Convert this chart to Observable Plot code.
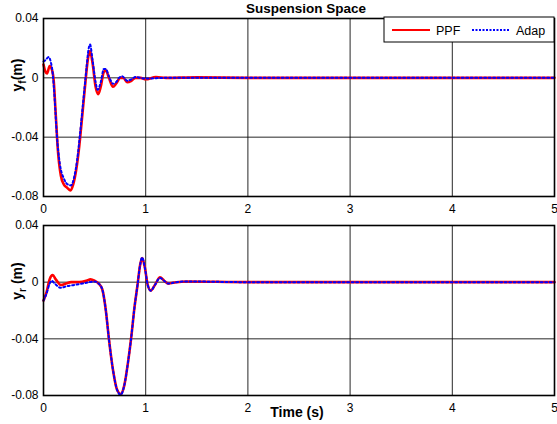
<!DOCTYPE html>
<html>
<head>
<meta charset="utf-8">
<script src="https://cdn.jsdelivr.net/npm/d3@7"></script>
<script src="https://cdn.jsdelivr.net/npm/@observablehq/plot@0.6"></script>
<style>
  body { margin: 0; background: #fff; }
  #wrap { position: relative; width: 557px; height: 424px; font-family: "Liberation Sans", Arial, sans-serif; }
  #wrap svg.plot { position: absolute; left: 0; }
  #overlay { position: absolute; left: 0; top: 0; pointer-events: none; }
</style>
</head>
<body>
<div id="wrap"></div>
<script>
// ---- data ----
const xTicks = [0, 1, 2, 3, 4, 5];
const yTicks = [-0.08, -0.04, 0, 0.04];
const yTickLabels = ["-0.08", "-0.04", "0", "0.04"];

// Front suspension space y_f
const tFppf = [0, 0.02, 0.035, 0.06, 0.08, 0.1, 0.12, 0.14, 0.17, 0.2, 0.23, 0.265, 0.29, 0.32, 0.35, 0.38, 0.41, 0.435, 0.455, 0.48, 0.51, 0.535, 0.56, 0.59, 0.61, 0.64, 0.68, 0.71, 0.75, 0.78, 0.82, 0.86, 0.9, 0.95, 1.0, 1.1, 1.2, 1.5, 2, 3, 4, 5];
const yFppf = [0.009, 0.004, 0.003, 0.008, 0.006, -0.002, -0.025, -0.048, -0.066, -0.072, -0.074, -0.076, -0.072, -0.062, -0.046, -0.025, -0.003, 0.013, 0.018, 0.01, -0.006, -0.011, -0.006, 0.004, 0.005, 0.0, -0.006, -0.004, 0.0, 0.0, -0.003, -0.002, 0.0, 0.0, -0.001, 0.0005, 0.0, 0.0003, 0, 0, 0, 0];
const tFadap = [0, 0.02, 0.05, 0.07, 0.09, 0.11, 0.13, 0.16, 0.2, 0.24, 0.27, 0.3, 0.33, 0.36, 0.39, 0.42, 0.44, 0.455, 0.48, 0.51, 0.53, 0.56, 0.59, 0.61, 0.64, 0.68, 0.71, 0.74, 0.77, 0.82, 0.86, 0.9, 1.0, 1.2, 1.5, 2, 3, 4, 5];
const yFadap = [0.011, 0.012, 0.014, 0.011, 0.003, -0.015, -0.038, -0.058, -0.068, -0.072, -0.0725, -0.067, -0.055, -0.036, -0.015, 0.006, 0.019, 0.0225, 0.012, -0.003, -0.008, -0.003, 0.006, 0.006, 0.001, -0.004, -0.003, 0.0, 0.001, -0.002, -0.001, 0.0005, -0.0005, 0.0, 0.0, 0, 0, 0, 0];

// Rear suspension space y_r
const tRppf = [0, 0.03, 0.06, 0.09, 0.12, 0.17, 0.22, 0.27, 0.35, 0.42, 0.46, 0.5, 0.54, 0.575, 0.61, 0.64, 0.68, 0.72, 0.755, 0.79, 0.83, 0.86, 0.89, 0.92, 0.945, 0.965, 0.99, 1.02, 1.05, 1.09, 1.14, 1.18, 1.22, 1.3, 1.4, 2, 3, 4, 5];
const yRppf = [-0.013, -0.007, 0.002, 0.005, 0.002, -0.002, -0.001, 0.0, 0.0, 0.001, 0.002, 0.001, -0.001, -0.005, -0.02, -0.04, -0.062, -0.076, -0.079, -0.073, -0.055, -0.038, -0.018, -0.002, 0.012, 0.017, 0.011, -0.002, -0.006, -0.002, 0.0035, 0.001, -0.001, 0.0, 0.0005, 0, 0, 0, 0];
const tRadap = [0, 0.03, 0.06, 0.08, 0.11, 0.17, 0.22, 0.3, 0.38, 0.45, 0.5, 0.54, 0.575, 0.61, 0.64, 0.68, 0.72, 0.755, 0.79, 0.83, 0.86, 0.89, 0.92, 0.945, 0.965, 0.99, 1.02, 1.05, 1.09, 1.14, 1.18, 1.22, 1.3, 1.4, 2, 3, 4, 5];
const yRadap = [-0.013, -0.008, -0.001, 0.001, -0.001, -0.004, -0.003, -0.002, -0.001, 0.0, 0.0005, -0.001, -0.005, -0.02, -0.04, -0.062, -0.076, -0.0795, -0.073, -0.055, -0.038, -0.018, -0.002, 0.012, 0.0175, 0.011, -0.002, -0.006, -0.002, 0.003, 0.001, -0.001, 0.0, 0.0005, 0, 0, 0, 0];

const seriesNames = ["PPF", "Adap"];
const seriesColors = ["#ff0000", "#0000ff"];

// ---- build tables ----
const zip = (ts, ys) => ts.map((t, i) => ({t, v: ys[i]}));
const font = '"Liberation Sans", Arial, sans-serif';

function panel({ppf, adap, height, marginTop, marginBottom}) {
  return Plot.plot({
    width: 557,
    height,
    marginLeft: 43,
    marginRight: 3,
    marginTop,
    marginBottom,
    style: {fontFamily: font, fontSize: "12px", color: "#000", background: "transparent"},
    x: {domain: [0, 5], ticks: xTicks},
    y: {domain: [-0.08, 0.04], ticks: yTicks},
    marks: [
      Plot.gridX(xTicks, {stroke: "#000", strokeOpacity: 0.85, strokeWidth: 1}),
      Plot.gridY(yTicks, {stroke: "#000", strokeOpacity: 0.85, strokeWidth: 1}),
      Plot.lineY(ppf, {x: "t", y: "v", stroke: seriesColors[0], strokeWidth: 2.6, curve: "monotone-x"}),
      Plot.lineY(adap, {x: "t", y: "v", stroke: seriesColors[1], strokeWidth: 2, strokeDasharray: "2,2.5", curve: "monotone-x"}),
      Plot.frame({stroke: "#000", strokeWidth: 1.6}),
      Plot.axisX(xTicks, {tickSize: 0, tickPadding: 8, label: null, tickFormat: d => String(d), fontSize: 12}),
      Plot.axisY(yTicks, {tickSize: 0, tickPadding: 5, label: null, tickFormat: d => yTickLabels[yTicks.indexOf(d)], fontSize: 12})
    ]
  });
}

const wrap = document.getElementById("wrap");
const topPanel = panel({ppf: zip(tFppf, yFppf), adap: zip(tFadap, yFadap), height: 215, marginTop: 18, marginBottom: 19});
topPanel.classList.add("plot"); topPanel.style.top = "0px";
const botPanel = panel({ppf: zip(tRppf, yRppf), adap: zip(tRadap, yRadap), height: 209, marginTop: 10, marginBottom: 29});
botPanel.classList.add("plot"); botPanel.style.top = "215px";
wrap.appendChild(topPanel);
wrap.appendChild(botPanel);

// ---- overlay text: title, axis labels, legend ----
const ov = d3.create("svg").attr("id", "overlay").attr("width", 557).attr("height", 424)
  .style("font-family", font);
ov.append("text").attr("x", 306).attr("y", 13).attr("text-anchor", "middle")
  .attr("font-weight", "bold").attr("font-size", 13.5).text("Suspension Space");
ov.append("text").attr("x", 297).attr("y", 417).attr("text-anchor", "middle")
  .attr("font-weight", "bold").attr("font-size", 14).text("Time (s)");

function ylab(cy, sub, gap) {
  const t = ov.append("text").attr("transform", `translate(22,${cy}) rotate(-90)`)
    .attr("text-anchor", "middle").attr("font-weight", "bold").attr("font-size", 14);
  t.append("tspan").text("y");
  t.append("tspan").attr("font-size", 10).attr("dy", 4).text(sub);
  t.append("tspan").attr("dy", -4).text(gap + "(m)");
}
ylab(75, "f", "");
ylab(281, "r", " ");

// legend
const lg = ov.append("g").attr("transform", "translate(384,17)");
lg.append("rect").attr("width", 170).attr("height", 25).attr("fill", "#fff").attr("stroke", "#000").attr("stroke-width", 1);
lg.append("line").attr("x1", 8).attr("x2", 46).attr("y1", 13).attr("y2", 13).attr("stroke", seriesColors[0]).attr("stroke-width", 2.2);
lg.append("text").attr("x", 52).attr("y", 17.5).attr("font-size", 12.5).text(seriesNames[0]);
lg.append("line").attr("x1", 88).attr("x2", 126).attr("y1", 13).attr("y2", 13).attr("stroke", seriesColors[1]).attr("stroke-width", 2).attr("stroke-dasharray", "2,1.5");
lg.append("text").attr("x", 132).attr("y", 17.5).attr("font-size", 12.5).text(seriesNames[1]);
wrap.appendChild(ov.node());
</script>
</body>
</html>
